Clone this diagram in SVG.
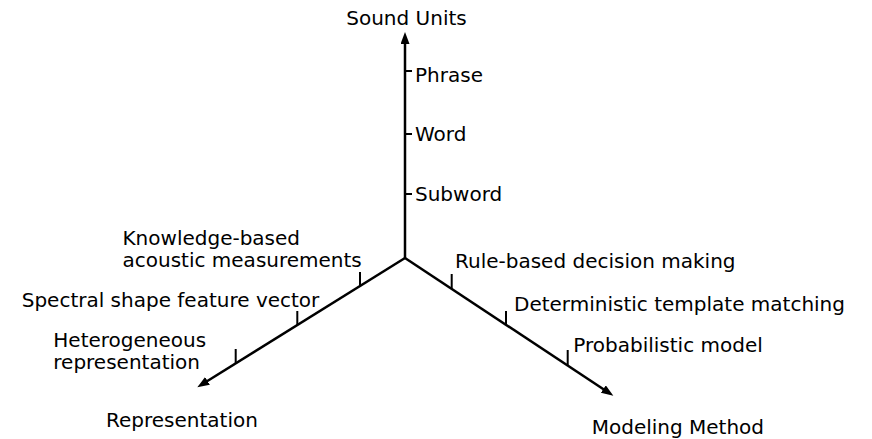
<svg xmlns="http://www.w3.org/2000/svg" width="872" height="439" viewBox="0 0 872 439">
  <style>
    text { font-family: "DejaVu Sans", Verdana, sans-serif; font-size: 20px; fill: #000; }
    .axis { stroke: #000; stroke-width: 2.5; fill: none; marker-end: url(#arrow); }
    .tick { stroke: #000; stroke-width: 2; fill: none; }
  </style>
  <defs>
    <marker id="arrow" markerUnits="userSpaceOnUse" markerWidth="13" markerHeight="10" refX="2" refY="4.5" orient="auto">
      <path d="M0,0 L12,4.5 L0,9 z" fill="#000"/>
    </marker>
  </defs>
  <rect width="872" height="439" fill="#fff"/>
  <g id="connectors">
    <line class="axis" x1="405" y1="258" x2="405" y2="42"/>
    <line class="axis" x1="405" y1="258" x2="205.8" y2="382.0"/>
    <line class="axis" x1="405" y1="258" x2="605.0" y2="390.2"/>
  </g>
  <g id="sound-units">
    <text x="406.5" y="25" text-anchor="middle">Sound Units</text>
  </g>
  <g id="phrase">
    <line class="tick" x1="405" y1="71" x2="412" y2="71"/>
    <text x="415" y="82">Phrase</text>
  </g>
  <g id="word">
    <line class="tick" x1="405" y1="134" x2="412" y2="134"/>
    <text x="415" y="141">Word</text>
  </g>
  <g id="subword">
    <line class="tick" x1="405" y1="194" x2="412" y2="194"/>
    <text x="415" y="201">Subword</text>
  </g>
  <g id="representation">
    <text x="106" y="427">Representation</text>
  </g>
  <g id="knowledge-based">
    <line class="tick" x1="360" y1="272" x2="360" y2="286"/>
    <text x="122.5" y="245">Knowledge-based</text>
    <text x="122.5" y="267">acoustic measurements</text>
  </g>
  <g id="spectral-shape">
    <line class="tick" x1="297.3" y1="311" x2="297.3" y2="325"/>
    <text x="21.7" y="307">Spectral shape feature vector</text>
  </g>
  <g id="heterogeneous">
    <line class="tick" x1="235.7" y1="349" x2="235.7" y2="363.4"/>
    <text x="53.3" y="346.5">Heterogeneous</text>
    <text x="53.3" y="368.5">representation</text>
  </g>
  <g id="modeling-method">
    <text x="591.7" y="434">Modeling Method</text>
  </g>
  <g id="rule-based">
    <line class="tick" x1="451.7" y1="274" x2="451.7" y2="288.9"/>
    <text x="455" y="267.5">Rule-based decision making</text>
  </g>
  <g id="deterministic">
    <line class="tick" x1="506" y1="311" x2="506" y2="324.8"/>
    <text x="514" y="310.7">Deterministic template matching</text>
  </g>
  <g id="probabilistic">
    <line class="tick" x1="567.7" y1="350" x2="567.7" y2="365.5"/>
    <text x="573.3" y="351.7">Probabilistic model</text>
  </g>
</svg>
